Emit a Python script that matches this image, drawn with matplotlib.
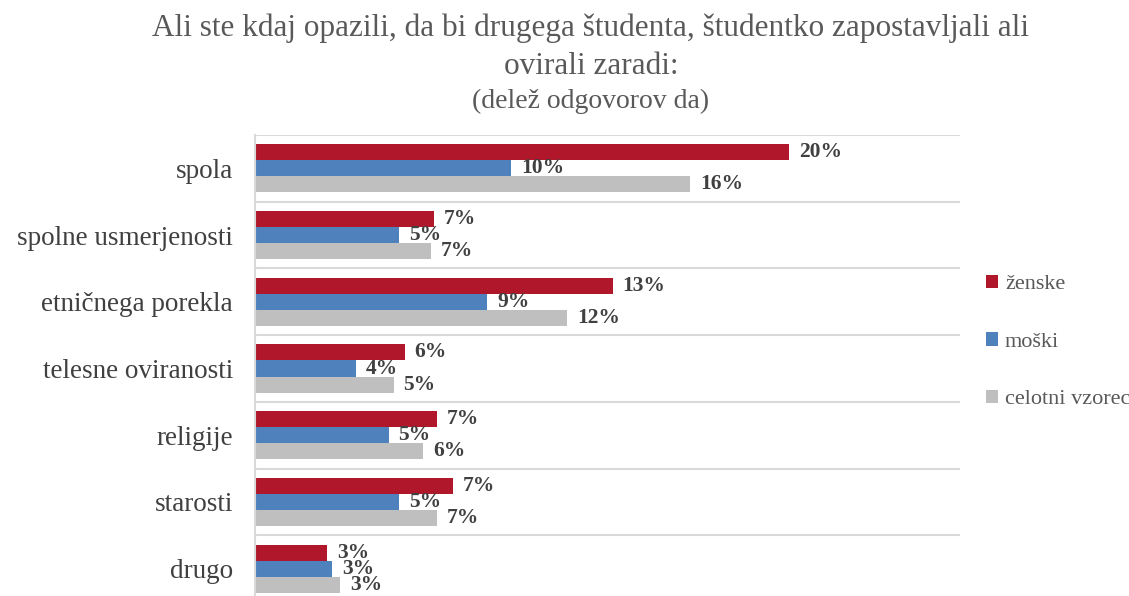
import numpy as np
import matplotlib
matplotlib.use("Agg")
import matplotlib.pyplot as plt

plt.rcParams['font.family'] = ['Liberation Serif', 'DejaVu Serif']

# data
categories = ['spola', 'spolne usmerjenosti', 'etničnega porekla', 'telesne oviranosti',
              'religije', 'starosti', 'drugo']
zenske = [20.0, 6.7, 13.4, 5.6, 6.8, 7.4, 2.7]
moski = [9.6, 5.4, 8.7, 3.8, 5.0, 5.4, 2.9]
celotni = [16.3, 6.6, 11.7, 5.2, 6.3, 6.8, 3.2]
series_names = ['ženske', 'moški', 'celotni vzorec']
colors = ['#B0172B', '#4F81BD', '#BFBFBF']

fig = plt.figure(figsize=(11.29, 5.96), dpi=100)
ax = fig.add_axes([255/1129, 1 - 602/596, 705/1129, 467/596])

y = np.arange(len(categories))
h = 0.24
for i, (vals, name, c) in enumerate(zip([zenske, moski, celotni], series_names, colors)):
    pos = y + (i - 1) * h
    ax.barh(pos, vals, height=h, color=c, label=name)
    for p, v in zip(pos, vals):
        ax.annotate('%d%%' % round(v), (v, p), xytext=(7, 0), textcoords='offset points',
                    va='center', ha='left', fontsize=15.5, fontweight='bold', color='#404040')

ax.set_xlim(0, 26.4)
ax.set_ylim(len(categories) - 0.5, -0.5)
ax.set_yticks(y)
ax.set_yticklabels(categories, fontsize=19.5, color='#404040')
ax.tick_params(axis='y', length=0, pad=16)
ax.set_xticks([])

# category separators
for b in np.arange(-0.5, len(categories), 1.0):
    ax.axhline(b, color='#D9D9D9', lw=1.5, zorder=0)
for s in ['top', 'right', 'bottom']:
    ax.spines[s].set_visible(False)
ax.spines['left'].set_color('#D9D9D9')
ax.spines['left'].set_linewidth(1.5)

fig.text(591/1129, 1 - 28/596, 'Ali ste kdaj opazili, da bi drugega študenta, študentko zapostavljali ali',
         ha='center', va='center', fontsize=22.5, color='#595959')
fig.text(591/1129, 1 - 66/596, 'ovirali zaradi:', ha='center', va='center', fontsize=22.5, color='#595959')
fig.text(591/1129, 1 - 101/596, '(delež odgovorov da)', ha='center', va='center', fontsize=20, color='#595959')

leg = fig.legend(loc='center left', bbox_to_anchor=(966/1129, 1 - 342/596), frameon=False,
                 fontsize=16, labelspacing=1.7, handlelength=0.55, handleheight=0.55,
                 handletextpad=0.3, labelcolor='#595959')

fig.savefig('out.png', dpi=100)
